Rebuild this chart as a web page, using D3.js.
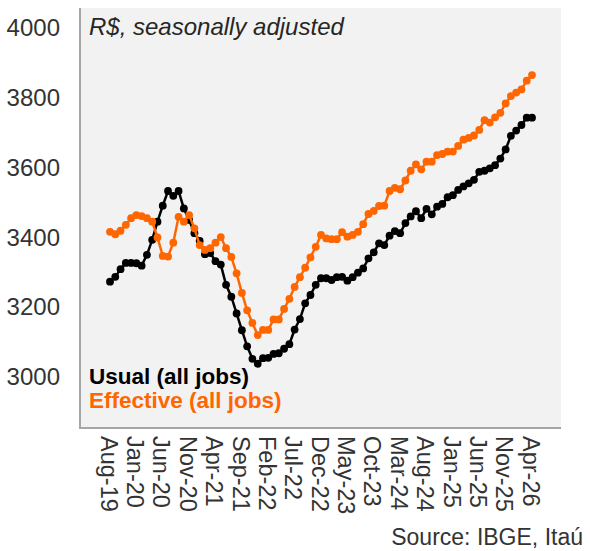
<!DOCTYPE html>
<html><head><meta charset="utf-8">
<script src="https://cdn.jsdelivr.net/npm/d3@7"></script>
<style>body{margin:0;background:#fff;}svg text{font-family:"Liberation Sans",Arial,sans-serif;}</style>
</head><body><svg id="c" width="590" height="551"></svg>
<script>
const months = ["Aug-19","Sep-19","Oct-19","Nov-19","Dec-19","Jan-20","Feb-20","Mar-20","Apr-20","May-20","Jun-20","Jul-20","Aug-20","Sep-20","Oct-20","Nov-20","Dec-20","Jan-21","Feb-21","Mar-21","Apr-21","May-21","Jun-21","Jul-21","Aug-21","Sep-21","Oct-21","Nov-21","Dec-21","Jan-22","Feb-22","Mar-22","Apr-22","May-22","Jun-22","Jul-22","Aug-22","Sep-22","Oct-22","Nov-22","Dec-22","Jan-23","Feb-23","Mar-23","Apr-23","May-23","Jun-23","Jul-23","Aug-23","Sep-23","Oct-23","Nov-23","Dec-23","Jan-24","Feb-24","Mar-24","Apr-24","May-24","Jun-24","Jul-24","Aug-24","Sep-24","Oct-24","Nov-24","Dec-24","Jan-25","Feb-25","Mar-25","Apr-25","May-25","Jun-25","Jul-25","Aug-25","Sep-25","Oct-25","Nov-25","Dec-25","Jan-26","Feb-26","Mar-26","Apr-26"];
const usual = [3273,3287,3309,3327,3327,3326,3319,3350,3393,3445,3491,3533,3519,3533,3483,3450,3412,3390,3352,3355,3332,3322,3264,3230,3182,3134,3088,3052,3038,3054,3055,3066,3068,3081,3094,3136,3166,3211,3235,3264,3283,3283,3278,3286,3287,3276,3286,3299,3311,3340,3357,3383,3378,3405,3418,3412,3441,3460,3475,3455,3482,3466,3488,3496,3515,3521,3536,3546,3555,3565,3588,3591,3598,3607,3626,3652,3691,3706,3722,3743,3743];
const effective = [3416,3409,3419,3436,3455,3464,3461,3455,3445,3400,3347,3345,3385,3459,3445,3464,3426,3378,3364,3369,3385,3401,3369,3344,3297,3241,3191,3155,3120,3135,3135,3165,3165,3195,3224,3258,3286,3313,3343,3373,3407,3397,3395,3395,3415,3402,3407,3416,3438,3467,3476,3490,3491,3533,3542,3538,3563,3591,3609,3595,3617,3617,3636,3639,3646,3646,3662,3680,3685,3692,3708,3736,3729,3744,3757,3784,3805,3815,3824,3849,3865];
const yTicks = [3000,3200,3400,3600,3800,4000];
const xTickLabels = ["Aug-19","Jan-20","Jun-20","Nov-20","Apr-21","Sep-21","Feb-22","Jul-22","Dec-22","May-23","Oct-23","Mar-24","Aug-24","Jan-25","Jun-25","Nov-25","Apr-26"];
const seriesNames = ["Usual (all jobs)","Effective (all jobs)"];
const colors = ["#000000","#ff6600"];

const svg = d3.select("#c");
const plot = {left:80, right:561, top:8, bottom:428};
const x = d3.scalePoint().domain(months).range([110,532]);
const y = d3.scaleLinear().domain([3000,4000]).range([377,28]);

svg.append("rect").attr("x",plot.left).attr("y",plot.top).attr("width",plot.right-plot.left).attr("height",plot.bottom-plot.top).attr("fill","#f2f2f2");

// y axis
const yAxis = d3.axisLeft(y).tickValues(yTicks).tickFormat(d3.format("d")).tickSize(0).tickPadding(20);
const gy = svg.append("g").attr("transform",`translate(${plot.left},0)`).call(yAxis);
gy.select(".domain").remove();
gy.selectAll("text").attr("font-size","24px").attr("fill","#333").attr("font-family","Liberation Sans, Arial, sans-serif");

// x axis
const xAxis = d3.axisBottom(x).tickValues(xTickLabels).tickSize(0);
const gx = svg.append("g").attr("transform",`translate(0,${plot.bottom})`).call(xAxis);
gx.select(".domain").remove();
gx.selectAll("text").attr("font-size","23.5px").attr("fill","#333").attr("font-family","Liberation Sans, Arial, sans-serif")
  .attr("text-anchor","start").attr("transform","rotate(90)").attr("x",8).attr("y",0).attr("dy","0.42em");

// axis lines
svg.append("line").attr("x1",plot.left).attr("x2",plot.left).attr("y1",plot.top).attr("y2",plot.bottom+1).attr("stroke","#a6a6a6").attr("stroke-width",2);
svg.append("line").attr("x1",plot.left).attr("x2",plot.right).attr("y1",plot.bottom).attr("y2",plot.bottom).attr("stroke","#a6a6a6").attr("stroke-width",2);

const line = d3.line().x((d,i)=>x(months[i])).y(d=>y(d));
[usual,effective].forEach((s,k)=>{
  const g = svg.append("g");
  g.append("path").datum(s).attr("d",line).attr("fill","none").attr("stroke",colors[k]).attr("stroke-width",2.5);
  g.selectAll("circle").data(s).join("circle").attr("cx",(d,i)=>x(months[i])).attr("cy",d=>y(d)).attr("r",3.9).attr("fill",colors[k]);
});

// title
svg.append("text").attr("x",89).attr("y",35).attr("font-size","24px").attr("font-style","italic").attr("fill","#262626").text("R$, seasonally adjusted");
// legend
seriesNames.forEach((n,k)=>{
  svg.append("text").attr("x",89).attr("y",384+k*24).attr("font-size","22.5px").attr("font-weight","bold").attr("fill",colors[k]).text(n);
});
// source
svg.append("text").attr("x",583).attr("y",545).attr("text-anchor","end").attr("font-size","23px").attr("fill","#333").text("Source: IBGE, Itaú");
</script></body></html>
